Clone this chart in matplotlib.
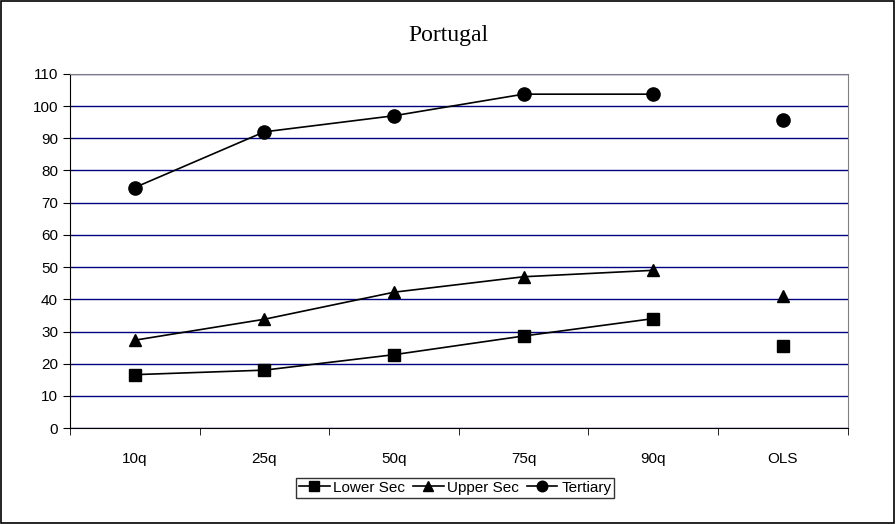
import numpy as np
import matplotlib
matplotlib.use('Agg')
import matplotlib.pyplot as plt
from matplotlib.patches import Rectangle

# ----------------------------------------------------------------------
# Data
# ----------------------------------------------------------------------

categories = ['10q', '25q', '50q', '75q', '90q', 'OLS']
lower_sec = [16.6, 18.0, 22.8, 28.6, 34.0, 25.5]
upper_sec = [27.3, 33.8, 42.2, 47.0, 49.0, 41.0]
tertiary = [74.7, 92.0, 97.0, 103.7, 103.7, 95.7]
yticks = np.arange(0, 111, 10)

fig = plt.figure(figsize=(8.96, 5.24), dpi=100)
ax = fig.add_axes([0.078, 0.183, 0.868, 0.676])

x = np.arange(len(categories))
series = [('Lower Sec', lower_sec, 's', 8.5),
          ('Upper Sec', upper_sec, '^', 8.5),
          ('Tertiary', tertiary, 'o', 9.5)]

for name, vals, mk, ms in series:
    # quantiles joined by a line, OLS drawn as a lone point
    ax.plot(x[:5], vals[:5], color='black', lw=1.2, marker=mk, ms=ms,
            label=name)
    ax.plot(x[5:], vals[5:], color='black', lw=0, marker=mk, ms=ms)

ax.set_xlim(-0.5, len(categories) - 0.5)
ax.set_ylim(0, 110)
ax.set_yticks(yticks)
ax.set_xticks(x)
ax.set_xticklabels(categories)
ax.set_xticks(np.arange(-0.5, len(categories)), minor=True)
ax.tick_params(axis='x', which='major', length=0, pad=17)
ax.tick_params(axis='x', which='minor', length=5, direction='out')
ax.tick_params(axis='y', length=5, direction='out')
for lab in ax.get_xticklabels() + ax.get_yticklabels():
    lab.set_fontfamily('Liberation Sans')
    lab.set_fontsize(11)

ax.yaxis.grid(True, color='#000080', lw=1)
ax.set_axisbelow(True)
ax.spines['top'].set_color('#808080')
ax.spines['right'].set_color('#808080')
ax.spines['left'].set_color('black')
ax.spines['bottom'].set_color('black')

fig.text(0.5, 0.933, 'Portugal', ha='center', va='center',
         family='Liberation Serif', fontsize=17)

leg = fig.legend(loc='center', bbox_to_anchor=(0.508, 0.069), ncol=3,
                 frameon=True, fancybox=False, edgecolor='black',
                 prop={'family': 'Liberation Sans', 'size': 11},
                 handlelength=2.0, handletextpad=0.25, columnspacing=0.5,
                 borderpad=0.2, markerscale=0.8)
leg.get_frame().set_linewidth(1.0)

fig.patches.append(Rectangle((0.001, 0.001), 0.997, 0.997,
                             transform=fig.transFigure, fill=False,
                             edgecolor='black', lw=1.2))

plt.savefig('out.png', dpi=100)
plt.close()
